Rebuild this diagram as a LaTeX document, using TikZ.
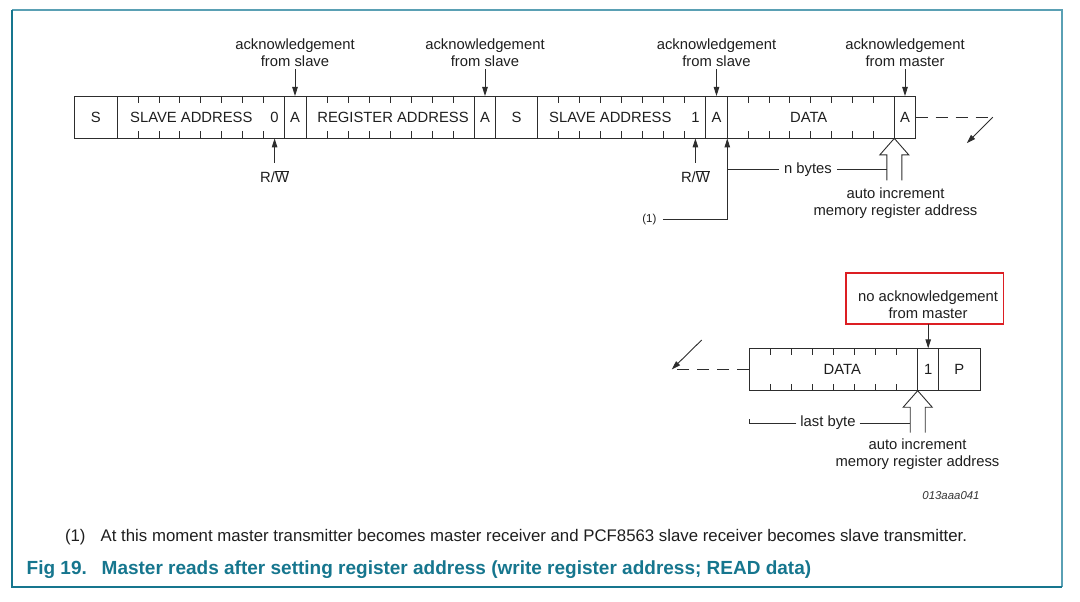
\documentclass[tikz,border=0pt]{standalone}
\usepackage{fontspec}
\setmainfont{Liberation Sans}
\usetikzlibrary{arrows.meta,calc}
\definecolor{txt}{RGB}{30,30,30}
\definecolor{lnc}{RGB}{45,45,45}
\definecolor{tealc}{RGB}{22,118,142}
\definecolor{teall}{RGB}{90,160,180}
\definecolor{redbox}{RGB}{220,30,35}
\newcommand\hollowup[1]{\draw[wire] ($(#1)+(-7.5,42)$) -- ++(0,-25.5) -- ++(-7,0) -- (#1) -- ++(14.5,16.5) -- ++(-7,0) -- ++(0,25.5);}
\begin{document}
\begin{tikzpicture}[x=1pt,y=-1pt,
  every node/.style={inner sep=0pt, outer sep=0pt, text=txt},
  cell/.style={draw=lnc, line width=0.9pt, minimum height=42.4pt, anchor=west},
  lab/.style={font=\fontsize{14.8}{17}\selectfont},
  two/.style={lab, align=center},
  wire/.style={draw=lnc, line width=0.9pt},
  arr/.style={wire, -{Triangle[length=9pt,width=5.5pt]}},
  dsh/.style={wire, dash pattern=on 12pt off 8pt},
  ]
\useasboundingbox (0,0) rectangle (1080,602);
% frame
\draw[teall, line width=1.2pt] (12,10) -- (1062,10) -- (1062,587);
\draw[tealc, line width=2.2pt] (12,10) -- (12,587) -- (1062,587);

% top bar cells
\node[cell, minimum width=43.3pt]  (s1)  at (74,117.2) {};
\node[cell, minimum width=166.7pt] (sa1) at (117.3,117.2) {};
\node[cell, minimum width=22pt]    (a1)  at (284,117.2) {};
\node[cell, minimum width=168.3pt] (ra)  at (306,117.2) {};
\node[cell, minimum width=21.4pt]  (a2)  at (474.3,117.2) {};
\node[cell, minimum width=41.6pt]  (s2)  at (495.7,117.2) {};
\node[cell, minimum width=168.4pt] (sa2) at (537.3,117.2) {};
\node[cell, minimum width=21.6pt]  (a3)  at (705.7,117.2) {};
\node[cell, minimum width=167pt]   (d1)  at (727.3,117.2) {};
\node[cell, minimum width=21.4pt]  (a4)  at (894.3,117.2) {};
% bottom bar cells
\node[cell, minimum width=168.7pt] (d2)  at (749,369.5) {};
\node[cell, minimum width=21pt]    (b1)  at (917.7,369.5) {};
\node[cell, minimum width=41.3pt]  (p1)  at (938.7,369.5) {};

% bit ticks
\foreach \n in {sa1,ra,sa2,d1,d2}{
  \foreach \k in {1,...,7}{
    \draw[wire] ($(\n.north west)!\k/8!(\n.north east)$) -- ++(0,7);
    \draw[wire] ($(\n.south west)!\k/8!(\n.south east)$) -- ++(0,-7);
  }
}

% cell texts
\node[lab] (ts1)  at (95.7,117.2) {S};
\node[lab] (tsa1) at (191.3,117.2) {SLAVE ADDRESS};
\node[lab] (t0)   at (274.6,117.2) {0};
\node[lab] (ta1)  at (a1) {A};
\node[lab] (tra)  at (393,117.2) {REGISTER ADDRESS};
\node[lab] (ta2)  at (a2) {A};
\node[lab] (ts2)  at (s2) {S};
\node[lab] (tsa2) at (610.3,117.2) {SLAVE ADDRESS};
\node[lab] (t1)   at (695.4,117.2) {1};
\node[lab] (ta3)  at (a3) {A};
\node[lab] (td1)  at (808.7,117.2) {DATA};
\node[lab] (ta4)  at (a4) {A};
\node[lab] (td2)  at (842.3,369.5) {DATA};
\node[lab] (tb1)  at (b1) {1};
\node[lab] (tp1)  at (p1) {P};

% acknowledgement labels
\node[two, outer sep=2.6pt] (k1) at (a1.north |- 0,52.7) {acknowledgement\\from slave};
\node[two, outer sep=2.6pt] (k2) at (a2.north |- 0,52.7) {acknowledgement\\from slave};
\node[two, outer sep=2.6pt] (k3) at (a3.north |- 0,52.7) {acknowledgement\\from slave};
\node[two, outer sep=2.6pt] (k4) at (a4.north |- 0,52.7) {acknowledgement\\from master};
\draw[arr] (k1.south) -- (a1.north);
\draw[arr] (k2.south) -- (a2.north);
\draw[arr] (k3.south) -- (a3.north);
\draw[arr] (k4.south) -- (a4.north);

% R/W labels
\node[lab, anchor=base] (rw1) at (t0 |- 0,182.7) {R/$\overline{\mbox{W}}$};
\node[lab, anchor=base] (rw2) at (t1 |- 0,182.7) {R/$\overline{\mbox{W}}$};
\draw[arr, shorten <=8pt] (rw1.north) -- (rw1.north |- sa1.south);
\draw[arr, shorten <=8pt] (rw2.north) -- (rw2.north |- sa2.south);

% note (1)
\node[font=\fontsize{11.5}{13}\selectfont, outer sep=6.5pt] (fn1) at (649.3,219.3) {(1)};
\draw[arr] (fn1.east) -- (fn1.east -| a3.south east) -- (a3.south east);

% hollow arrows
\coordinate (h1) at (a4.south west);
\coordinate (h2) at (b1.south west);
\hollowup{h1}
\hollowup{h2}

% n bytes
\node[lab, anchor=base, outer sep=5pt] (nb) at (808,173.3) {n bytes};
\draw[wire] (nb.west) -- (nb.west -| a3.south east);
\draw[wire] (nb.east) -- ($(nb.east -| h1)+(-7.5,0)$);

\node[two] (ai1) at (895.5,203.3) {auto increment\\memory register address};

% continuation top
\coordinate (c1) at (992.7,117.2);
\coordinate (c1t) at (966.7,143.3);
\draw[dsh] (a4.east) -- (c1);
\draw[arr] (c1) -- (c1t);

% bottom part
\node[draw=redbox, line width=1.6pt, minimum width=157.3pt, minimum height=51.3pt] (nackbox) at (924.7,298.4) {};
\node[two] (nack) at (928,304.7) {no acknowledgement\\from master};
\draw[arr] (nackbox.south -| b1.north) -- (b1.north);

\coordinate (c2) at (671.7,369.5);
\coordinate (c2s) at (701.7,340);
\draw[dsh] (d2.west) -- (c2);
\draw[arr] (c2s) -- (c2);

\node[lab, outer sep=4pt] (lb) at (828,423) {last byte};
\draw[wire] (lb.west) -- (lb.west -| d2.south west) -- ++(0,-4.5);
\draw[wire] (lb.east) -- ($(lb.east -| h2)+(-7.5,0)$);

\node[two] (ai2) at (917.5,454) {auto increment\\memory register address};

\node[font=\fontsize{11.4}{13}\selectfont\itshape, text=black!80] (fig) at (951,495.7) {013aaa041};

% footnote and caption
\node[font=\fontsize{16.8}{19}\selectfont, anchor=base west] (fnl) at (65,541.5) {(1)};
\node[font=\fontsize{16.8}{19}\selectfont, anchor=base west] (fnt) at (100.7,541.5) {At this moment master transmitter becomes master receiver and PCF8563 slave receiver becomes slave transmitter.};
\node[font=\fontsize{19}{21}\selectfont\bfseries, text=tealc, anchor=base west] (capn) at (26.7,574.5) {Fig 19.};
\node[font=\fontsize{19}{21}\selectfont\bfseries, text=tealc, anchor=base west] (capt) at (101.7,574.5) {Master reads after setting register address (write register address; READ data)};
\end{tikzpicture}
\end{document}
